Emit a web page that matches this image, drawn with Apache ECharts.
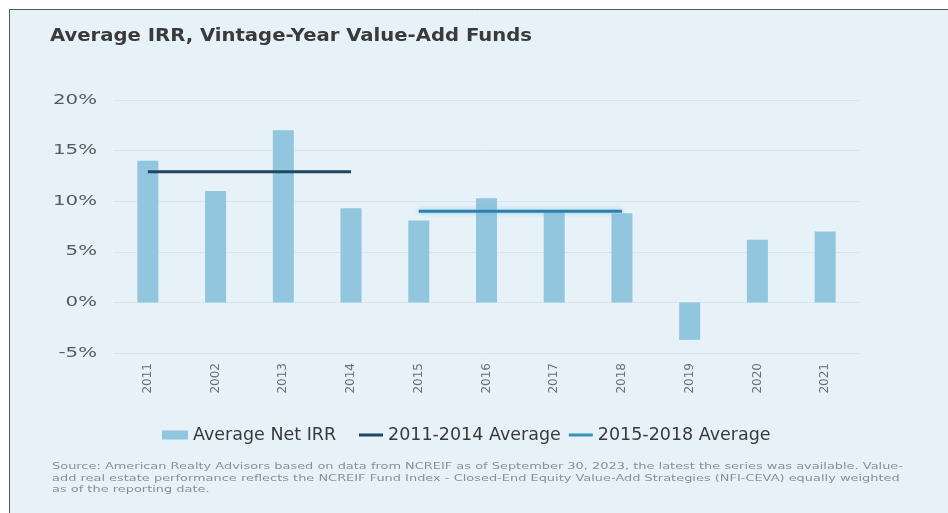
<!DOCTYPE html>
<html>
<head>
<meta charset="utf-8">
<script src="https://cdn.jsdelivr.net/npm/echarts@6/dist/echarts.min.js"></script>
<style>
html,body{margin:0;padding:0;background:#ffffff;}
#chart{width:948px;height:513px;}
</style>
</head>
<body>
<div id="chart"></div>
<script>
const categories = ['2011','2002','2013','2014','2015','2016','2017','2018','2019','2020','2021'];
const netIrr = [14.0, 11.0, 17.0, 9.3, 8.1, 10.3, 8.9, 8.8, -3.7, 6.2, 7.0];
const avg2011_2014 = [12.9, 12.9, 12.9, 12.9, null, null, null, null, null, null, null];
const avg2015_2018 = [null, null, null, null, 9.0, 9.0, 9.0, 9.0, null, null, null];
const yTicks = [-5, 0, 5, 10, 15, 20];
const titleText = 'Average IRR, Vintage-Year Value-Add Funds';
const footnote = [
  'Source: American Realty Advisors based on data from NCREIF as of September 30, 2023, the latest the series was available. Value-',
  'add real estate performance reflects the NCREIF Fund Index - Closed-End Equity Value-Add Strategies (NFI-CEVA) equally weighted',
  'as of the reporting date.'
];

const wide = '"DejaVu Sans", Verdana, sans-serif';
const titleFont = 'bold 17px "DejaVu Sans", sans-serif';
const noteFont = '9px "DejaVu Sans", sans-serif';
const yFont = '14px "DejaVu Sans", sans-serif';

function measure(text, font) {
  const c = document.createElement('canvas').getContext('2d');
  c.font = font;
  return c.measureText(text).width;
}
const titleScale = 482 / measure(titleText, titleFont);
const noteScale = 851 / measure(footnote[0], noteFont);
const yScale = 44 / measure('20%', yFont);

const chart = echarts.init(document.getElementById('chart'), null, {renderer: 'canvas'});
const baseGraphic = [
  {id: 'bg', type: 'rect', z: -10, shape: {x: 9.5, y: 9.5, width: 1000, height: 1000},
   style: {fill: '#e7f1f8', stroke: '#555555', lineWidth: 1}},
  {id: 'title', type: 'text', x: 50, y: 37, scaleX: titleScale,
   style: {text: titleText, font: titleFont, fill: '#3a3a3a', verticalAlign: 'middle', textVerticalAlign: 'middle'}},
  {id: 'note', type: 'text', x: 52, y: 461, scaleX: noteScale,
   style: {text: footnote.join('\n'), font: noteFont, fill: '#8a8f94', lineHeight: 11.5}}
];
chart.setOption({
  backgroundColor: 'transparent',
  animation: false,
  graphic: baseGraphic,
  legend: [
    {top: 421, left: 157, itemWidth: 26, itemHeight: 9,
     textStyle: {fontFamily: wide, fontSize: 17.5, color: '#3a3a3a'},
     data: [{name: 'Average Net IRR', icon: 'rect'}]},
    {top: 421, left: 354, itemWidth: 24, itemHeight: 3, itemGap: 8,
     textStyle: {fontFamily: wide, fontSize: 17.5, color: '#3a3a3a'},
     data: [{name: '2011-2014 Average', icon: 'rect'}, {name: '2015-2018 Average', icon: 'rect'}]}
  ],
  grid: {left: 114, right: 89, top: 100, bottom: 160, containLabel: false},
  xAxis: {
    type: 'category', data: categories,
    axisLine: {show: false}, axisTick: {show: false},
    axisLabel: {rotate: 90, margin: 10, fontFamily: wide, fontSize: 12, color: '#6b6f73'}
  },
  yAxis: {
    type: 'value', min: -5, max: 20, interval: 5,
    axisLine: {show: false}, axisTick: {show: false},
    splitLine: {lineStyle: {color: '#d9e4ec', width: 1}},
    axisLabel: {show: false}
  },
  series: [
    {name: 'Average Net IRR', type: 'bar', data: netIrr, barWidth: 21,
     itemStyle: {color: '#92c5de'}},
    {name: '2011-2014 Average', type: 'line', data: avg2011_2014, symbol: 'none',
     connectNulls: false, lineStyle: {color: '#1e4763', width: 3},
     itemStyle: {color: '#1e4763'}},
    {name: '2015-2018 Average', type: 'line', data: avg2015_2018, symbol: 'none',
     connectNulls: false,
     lineStyle: {color: '#2f7fab', width: 3, shadowColor: 'rgba(120,200,240,0.9)', shadowBlur: 4},
     itemStyle: {color: '#3a8fbd'}}
  ]
});

// y-axis tick labels placed through the axis scale, stretched to match the wide face
const yLabels = yTicks.map(v => ({
  id: 'ylab' + v, type: 'text',
  x: 97, y: chart.convertToPixel({yAxisIndex: 0}, v), scaleX: yScale,
  style: {text: v + '%', font: yFont, fill: '#555a5e', align: 'right', textAlign: 'right',
          verticalAlign: 'middle', textVerticalAlign: 'middle'}
}));
chart.setOption({graphic: baseGraphic.concat(yLabels)});
</script>
</body>
</html>
